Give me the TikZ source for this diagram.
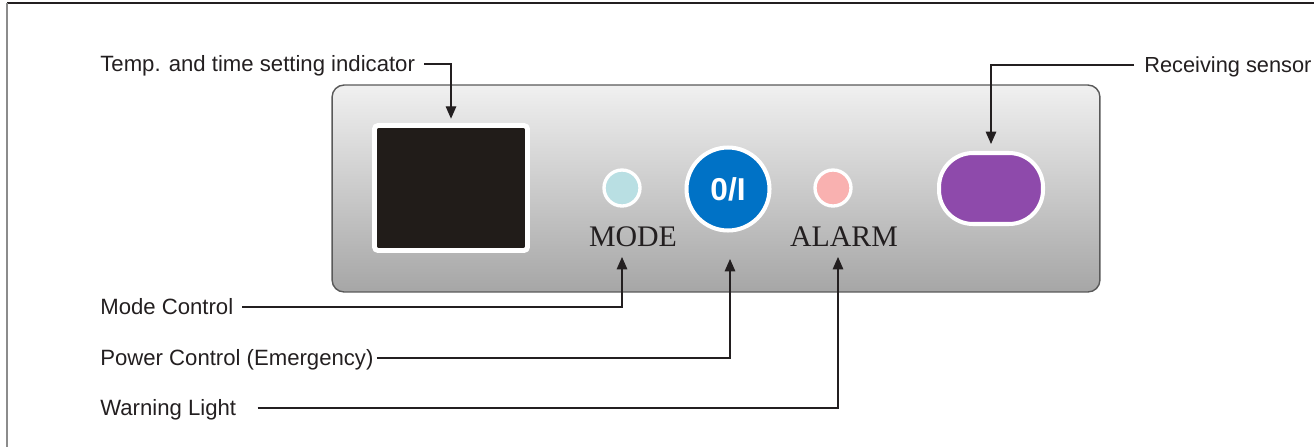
\documentclass[tikz,border=0pt]{standalone}
\usepackage{fontspec}
\setmainfont{Liberation Serif}
\setsansfont{Liberation Sans}
\usetikzlibrary{arrows.meta,positioning}

\definecolor{ink}{HTML}{231F20}
\definecolor{panelTop}{HTML}{F0F0F0}
\definecolor{panelBot}{HTML}{A6A6A6}
\definecolor{screen}{HTML}{211C19}
\definecolor{modeLed}{HTML}{B9DFE3}
\definecolor{powerBlue}{HTML}{0072C6}
\definecolor{alarmLed}{HTML}{F9B1B0}
\definecolor{sensorPurple}{HTML}{8E4AAB}

\begin{document}
\begin{tikzpicture}[x=0.02cm,y=-0.02cm,>={Triangle[length=7pt,width=6pt]},
	lbl/.style={font=\sffamily\fontsize{12.6}{15}\selectfont,text=ink,inner sep=0pt,
		text height=9pt,text depth=0pt,anchor=west},
	lead/.style={->,draw=ink,line width=0.6pt},
	panel/.style={rectangle,rounded corners=0.24cm,draw=black!65,line width=0.8pt,
		top color=panelTop,bottom color=panelBot,minimum width=15.36cm,minimum height=4.14cm},
	led/.style={circle,draw=white,line width=1.9pt,minimum size=0.72cm,inner sep=0pt},
	caption/.style={font=\fontsize{17}{20}\selectfont,text=ink,inner sep=0pt,anchor=base}]
	\useasboundingbox (0,0) rectangle (1314,447);
	% frame
	\draw[ink,line width=1pt] (7,3) -- (1314,3);
	\draw[black!45,line width=1.2pt] (7,3) -- (7,447);
	
	% control panel
	\node[panel](panel) at (716,188.5) {};
	\node[rectangle,fill=screen,draw=white,line width=2.8pt,rounded corners=2pt,
		minimum width=3.06cm,minimum height=2.5cm,inner sep=0pt](disp) at (451,188) {};
	\node[led,fill=modeLed](modeled) at (622,188) {};
	\node[circle,fill=powerBlue,draw=white,line width=2.3pt,minimum size=1.66cm,inner sep=0pt,
		text=white,font=\sffamily\bfseries\fontsize{18}{20}\selectfont](power) at (728,189) {0/I};
	\node[led,fill=alarmLed](alarmled) at (833,188) {};
	\node[rectangle,fill=sensorPurple,draw=white,line width=2.3pt,rounded corners=0.68cm,
		minimum width=2.08cm,minimum height=1.42cm,inner sep=0pt](sensor) at (991,188.5) {};
	\node[caption](modetxt) at (633,246) {MODE};
	\node[caption](alarmtxt) at (844,246) {ALARM};
	
	% labels
	\node[lbl](temp) at (100,64) {Temp. and time setting indicator};
	\node[lbl,font=\sffamily\fontsize{12.4}{15}\selectfont](recv) at (1144,65) {Receiving sensor};
	\node[lbl](modectl) at (100,307) {Mode Control};
	\node[lbl](powerctl) at (100,358) {Power Control (Emergency)};
	\node[lbl](warn) at (100,408) {Warning Light};
	\coordinate (modetip) at (622,257);
	\coordinate (powertip) at (730,259);
	\coordinate (warntip) at (838,257);
	
	\draw[lead,shorten <=5pt,shorten >=2.5pt] (temp.east) -| (disp.north);
	\draw[lead,shorten <=5.7pt,shorten >=4pt] (recv.west) -| (sensor.north);
	\draw[lead,shorten <=5pt] (modectl.east) -| (modetip);
	\draw[lead,shorten <=1.7pt] (powerctl.east) -| (powertip);
	\draw[lead,shorten <=12pt] (warn.east) -| (warntip);
\end{tikzpicture}
\end{document}
